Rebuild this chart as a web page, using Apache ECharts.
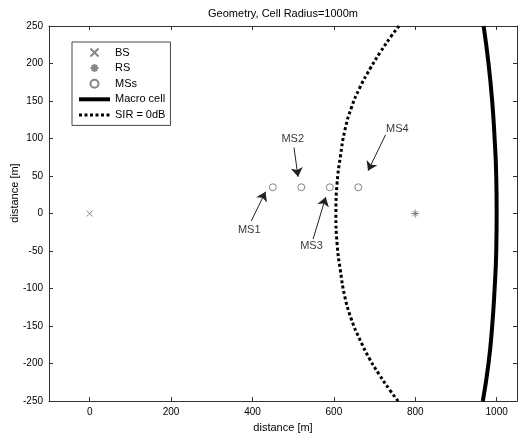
<!DOCTYPE html>
<html>
<head>
<meta charset="utf-8">
<script src="https://cdn.jsdelivr.net/npm/echarts@6/dist/echarts.min.js"></script>
<style>html,body{margin:0;padding:0;background:#fff}#c{width:524px;height:438px}</style>
</head>
<body>
<div id="c"></div>
<script>
// ---- data ----
const titleText = 'Geometry, Cell Radius=1000m';
const xTicks = [0, 200, 400, 600, 800, 1000];
const yTicks = [-250, -200, -150, -100, -50, 0, 50, 100, 150, 200, 250];
const bsPoint = [[0, 0]];
const rsPoint = [[800, 0]];
const msX = [450, 520, 590, 660];
const msY = [35, 35, 35, 35];
const macroY = [-250, -200, -150, -100, -50, 0, 50, 100, 150, 200, 250];
const macroX = [966, 980, 989, 995, 999, 1000, 999, 995, 989, 980, 968];
const sirY = [-250, -235, -215, -194, -167, -141, -111, -76, -41, 0, 41, 76, 111, 141, 167, 194, 215, 235, 250];
const sirX = [758, 737, 712, 688, 663, 643, 627, 616, 608, 605, 608, 616, 627, 643, 663, 690, 714, 739, 760];
const annLabels = ['MS1', 'MS2', 'MS3', 'MS4'];
const annText = [[392, -22], [499, 99], [545, -43], [756, 113]];
const annTail = [[397, -10], [502, 88], [549, -34], [727, 105]];
const annTip = [[432, 29], [512, 49], [580, 22], [684, 57]];

const FONT = 'Liberation Sans, Arial, Helvetica, sans-serif';
const markerColor = '#666';
const xSym = 'path://M0,0L10,10M10,0L0,10';
const starSym = 'path://M5,0L5,10M0,5L10,5M1.5,1.5L8.5,8.5M8.5,1.5L1.5,8.5';
const clear = 'rgba(0,0,0,0)';

const chart = echarts.init(document.getElementById('c'), null, {renderer: 'canvas'});

const frameLine = {show: true, onZero: false, lineStyle: {color: '#333', width: 1}};
const tickIn = {show: true, inside: true, length: 4, lineStyle: {color: '#333'}};

const option = {
  backgroundColor: '#fff',
  animation: false,
  textStyle: {fontFamily: FONT},
  title: {
    text: titleText, left: 283, top: 8, padding: 0, textAlign: 'center',
    textStyle: {fontSize: 11, fontWeight: 'normal', color: '#000', fontFamily: FONT}
  },
  grid: {left: 49, right: 7, top: 26, bottom: 30, containLabel: false},
  legend: {
    orient: 'vertical', left: 72, top: 42,
    padding: [5, 5, 5, 5], itemGap: 4.6, itemWidth: 31, itemHeight: 8,
    borderColor: '#444', borderWidth: 1, backgroundColor: '#fff',
    textStyle: {fontSize: 11, color: '#000', fontFamily: FONT},
    data: [
      'BS', 'RS', 'MSs',
      {name: 'Macro cell', lineStyle: {width: 4}},
      {name: 'SIR = 0dB', lineStyle: {width: 3}}
    ]
  },
  xAxis: [
    {type: 'value', min: -100, max: 1050, position: 'bottom',
     axisLine: frameLine, axisTick: Object.assign({customValues: xTicks}, tickIn),
     axisLabel: {customValues: xTicks, formatter: v => String(v), fontSize: 10, color: '#000', margin: 6, fontFamily: FONT},
     splitLine: {show: false},
     name: 'distance [m]', nameLocation: 'middle', nameGap: 18,
     nameTextStyle: {fontSize: 11, color: '#000', fontFamily: FONT}},
    {type: 'value', min: -100, max: 1050, position: 'top',
     axisLine: frameLine, axisTick: Object.assign({customValues: xTicks}, tickIn),
     axisLabel: {show: false, customValues: xTicks}, splitLine: {show: false}}
  ],
  yAxis: [
    {type: 'value', min: -250, max: 250, interval: 50, position: 'left',
     axisLine: frameLine, axisTick: tickIn,
     axisLabel: {fontSize: 10, color: '#000', margin: 6, fontFamily: FONT},
     splitLine: {show: false}},
    {type: 'value', min: -250, max: 250, interval: 50, position: 'right',
     axisLine: frameLine, axisTick: tickIn,
     axisLabel: {show: false}, splitLine: {show: false}}
  ],
  graphic: [{
    type: 'text', x: 15, y: 193, rotation: Math.PI / 2,
    style: {text: 'distance [m]', fontSize: 11, fill: '#000', font: '11px ' + FONT,
            align: 'center', verticalAlign: 'middle'}
  }],
  series: [
    {name: 'BS', type: 'scatter', symbol: xSym, symbolSize: 6,
     itemStyle: {color: clear, borderColor: markerColor, borderWidth: 1},
     data: bsPoint, z: 5},
    {name: 'RS', type: 'scatter', symbol: starSym, symbolSize: 8,
     itemStyle: {color: clear, borderColor: markerColor, borderWidth: 1},
     data: rsPoint, z: 5},
    {name: 'MSs', type: 'scatter', symbol: 'circle', symbolSize: 7,
     itemStyle: {color: '#fff', borderColor: markerColor, borderWidth: 1},
     data: msX.map((x, i) => [x, msY[i]]), z: 5},
    {name: 'Macro cell', type: 'line', symbol: 'none', smooth: true,
     lineStyle: {color: '#000', width: 4}, itemStyle: {color: clear, borderWidth: 0},
     data: macroX.map((x, i) => [x, macroY[i]])},
    {name: 'SIR = 0dB', type: 'line', symbol: 'none', smooth: true,
     lineStyle: {color: '#000', width: 3, type: [3, 2.5]}, itemStyle: {color: clear, borderWidth: 0},
     data: sirX.map((x, i) => [x, sirY[i]])},
    {name: 'annotations', type: 'scatter', symbolSize: 1,
     itemStyle: {color: clear},
     label: {show: true, position: 'inside', formatter: p => p.name,
             fontSize: 11, color: '#000', fontFamily: FONT},
     data: annLabels.map((n, i) => ({name: n, value: annText[i]}))},
    {name: 'arrows', type: 'line', data: [], symbol: 'none',
     itemStyle: {color: '#000'}, lineStyle: {color: '#000'},
     markLine: {
       silent: true, animation: false,
       symbol: ['none', 'arrow'], symbolSize: 9,
       label: {show: false},
       lineStyle: {color: '#222', width: 1, type: 'solid'},
       data: annTail.map((t, i) => [{coord: t}, {coord: annTip[i]}])
     }}
  ]
};
chart.setOption(option);
</script>
</body>
</html>
